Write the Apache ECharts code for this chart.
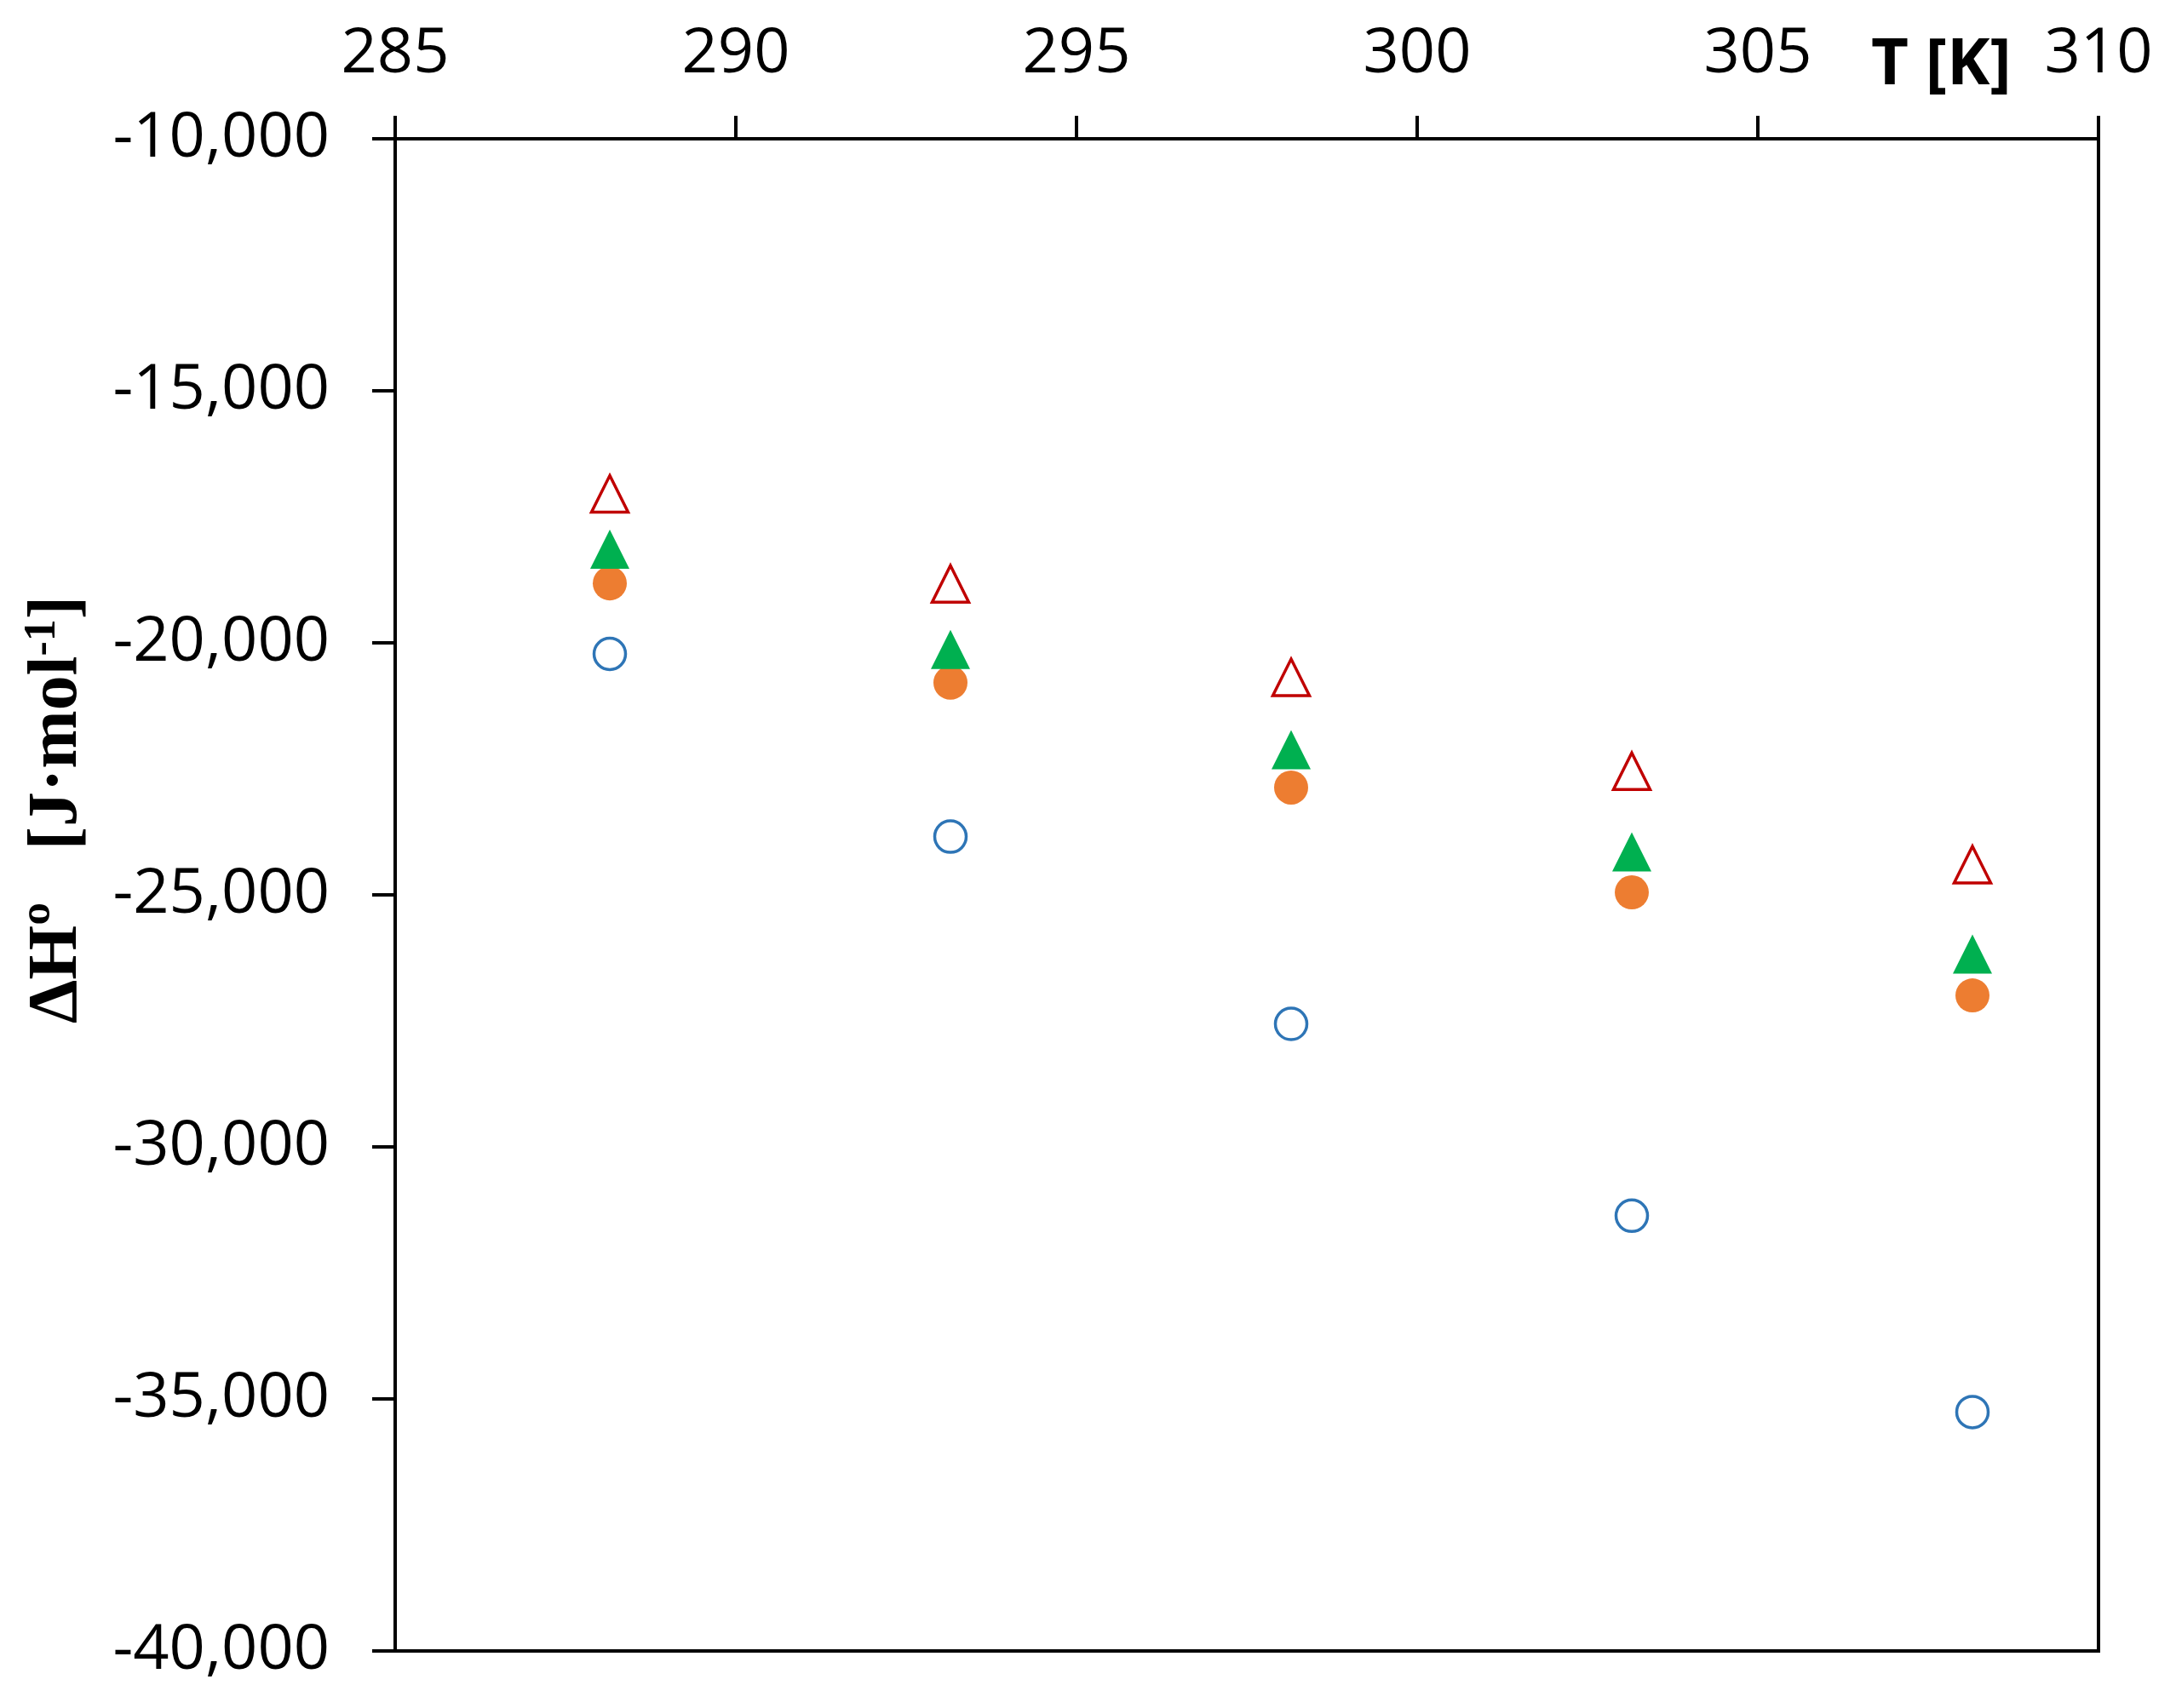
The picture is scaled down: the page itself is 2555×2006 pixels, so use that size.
<!DOCTYPE html>
<html lang="en">

<head>
    <meta charset="UTF-8">
    <title>ΔH° vs T</title>
    <style type="text/css">
        body {
            margin: 0;
            background: #fff;
        }

        #main {
            height: 2006px;
            width: 2555px;
        }
    </style>
    <script src="https://cdn.jsdelivr.net/npm/echarts@6/dist/echarts.min.js"></script>
</head>

<body>
    <div id="main"></div>
    <script type="text/javascript">
        // temperatures [K]
        var temps = [288.15, 293.15, 298.15, 303.15, 308.15];
        // ΔH° [J/mol], one array per marker type
        var openCircle = [-20220, -23845, -27560, -31365, -35260];
        var filledCircle = [-18820, -20790, -22870, -24950, -26995];
        var filledTriangle = [-18140, -20130, -22120, -24147, -26175];
        var openTriangle = [-17045, -18830, -20685, -22545, -24400];
        // axis ticks
        var xTicks = [285, 290, 295, 300, 305, 310];
        var yTicks = [-40000, -35000, -30000, -25000, -20000, -15000, -10000];

        function pairs(ys) {
            var out = [];
            for (var i = 0; i < temps.length; i++) {
                out.push([temps[i], ys[i]]);
            }
            return out;
        }

        var labelFont = 'Open Sans';
        var myChart = echarts.init(document.getElementById('main'));
        var option = {
            backgroundColor: '#fff',
            animation: false,
            grid: {
                left: 464,
                right: 91,
                top: 163,
                bottom: 67,
                containLabel: false,
                outerBoundsMode: 'none',
                show: true,
                borderColor: '#000',
                borderWidth: 4
            },
            xAxis: {
                type: 'value',
                position: 'top',
                min: xTicks[0],
                max: xTicks[xTicks.length - 1],
                interval: xTicks[1] - xTicks[0],
                name: 'T [K]',
                nameLocation: 'end',
                nameGap: -267,
                nameTextStyle: {
                    fontFamily: labelFont,
                    fontWeight: 'bold',
                    fontSize: 76,
                    color: '#000',
                    verticalAlign: 'bottom',
                    padding: [0, 0, 48, 0]
                },
                axisLine: { lineStyle: { color: '#000', width: 4 } },
                axisTick: { show: true, inside: false, length: 27, lineStyle: { color: '#000', width: 4 } },
                axisLabel: { fontFamily: labelFont, fontSize: 74, color: '#000', margin: 62 },
                splitLine: { show: false }
            },
            yAxis: {
                type: 'value',
                min: yTicks[0],
                max: yTicks[yTicks.length - 1],
                interval: yTicks[1] - yTicks[0],
                name: '{a|ΔHº   [J·mol}{s|-1}{a|]}',
                nameLocation: 'middle',
                nameGap: 353,
                nameRotate: 90,
                nameTextStyle: {
                    padding: [0, 0, 0, 200],
                    rich: {
                        a: {
                            fontFamily: 'Liberation Serif',
                            fontWeight: 'bold',
                            fontSize: 82,
                            color: '#000'
                        },
                        s: {
                            fontFamily: 'Liberation Serif',
                            fontWeight: 'bold',
                            fontSize: 52,
                            color: '#000',
                            padding: [0, 0, 34, 0]
                        }
                    }
                },
                axisLine: { lineStyle: { color: '#000', width: 4 } },
                axisTick: { show: true, inside: false, length: 27, lineStyle: { color: '#000', width: 4 } },
                axisLabel: {
                    fontFamily: labelFont,
                    fontSize: 74,
                    color: '#000',
                    margin: 77,
                    formatter: function (v) {
                        return v.toLocaleString('en-US');
                    }
                },
                splitLine: { show: false }
            },
            series: [
                {
                    name: 'open circle',
                    type: 'scatter',
                    symbol: 'circle',
                    symbolSize: 37,
                    itemStyle: { color: '#fff', borderColor: '#2E75B6', borderWidth: 3.5, opacity: 1 },
                    data: pairs(openCircle)
                },
                {
                    name: 'filled circle',
                    type: 'scatter',
                    symbol: 'circle',
                    symbolSize: 40,
                    itemStyle: { color: '#ED7D31', opacity: 1 },
                    data: pairs(filledCircle)
                },
                {
                    name: 'filled triangle',
                    type: 'scatter',
                    symbol: 'triangle',
                    symbolSize: [46, 46],
                    itemStyle: { color: '#00B050', opacity: 1 },
                    data: pairs(filledTriangle)
                },
                {
                    name: 'open triangle',
                    type: 'scatter',
                    symbol: 'triangle',
                    symbolSize: [43, 43],
                    itemStyle: { color: '#fff', borderColor: '#C00000', borderWidth: 3.5, opacity: 1 },
                    data: pairs(openTriangle)
                }
            ]
        };
        myChart.setOption(option);
    </script>
</body>

</html>
